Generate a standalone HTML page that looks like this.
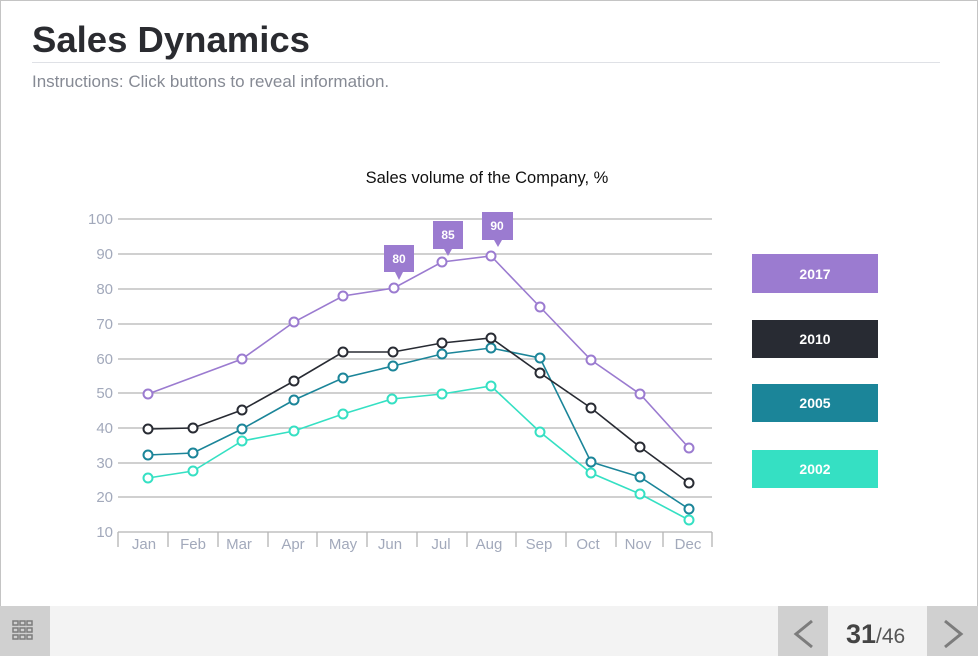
<!DOCTYPE html>
<html><head><meta charset="utf-8"><style>
html,body{margin:0;padding:0;background:#fff;}
body{width:978px;height:656px;position:relative;overflow:hidden;font-family:"Liberation Sans",Arial,sans-serif;}
.frame{position:absolute;left:0;top:0;width:976px;height:606px;border:1px solid #c4c4c4;border-bottom:none;}
h1{position:absolute;left:32px;top:20px;margin:0;font-size:36.5px;font-weight:bold;color:#2a2b30;line-height:40px;}
.rule{position:absolute;left:32px;top:62px;width:908px;height:1px;background:#dfe1e6;}
.instr{position:absolute;left:32px;top:72px;font-size:17px;color:#868a94;}
.bar{position:absolute;left:0;top:606px;width:978px;height:50px;background:#f3f3f3;}
.gb{position:absolute;top:606px;height:50px;background:#d0d0d0;}
</style></head><body>
<div class="frame"></div>
<h1>Sales Dynamics</h1>
<div class="rule"></div>
<div class="instr">Instructions: Click buttons to reveal information.</div>
<svg width="978" height="606" style="position:absolute;left:0;top:0" font-family="Liberation Sans, Arial, sans-serif">
<text x="487" y="183" font-size="16.5" text-anchor="middle" fill="#111">Sales volume of the Company, %</text>
<g stroke="#b4b4b4" stroke-width="1.3">
<line x1="118" x2="712" y1="219" y2="219"/><line x1="118" x2="712" y1="254" y2="254"/><line x1="118" x2="712" y1="289" y2="289"/><line x1="118" x2="712" y1="324" y2="324"/><line x1="118" x2="712" y1="359" y2="359"/><line x1="118" x2="712" y1="393" y2="393"/><line x1="118" x2="712" y1="428" y2="428"/><line x1="118" x2="712" y1="463" y2="463"/><line x1="118" x2="712" y1="497" y2="497"/><line x1="118" x2="712" y1="532" y2="532"/>
<path d="M118 532v15M168 532v15M218 532v15M268 532v15M317 532v15M367 532v15M417 532v15M467 532v15M516 532v15M566 532v15M616 532v15M663 532v15M712 532v15"/>
</g>
<g font-size="15" fill="#a2a9bb" text-anchor="end">
<text x="113" y="224">100</text><text x="113" y="259">90</text><text x="113" y="294">80</text><text x="113" y="329">70</text><text x="113" y="364">60</text><text x="113" y="398">50</text><text x="113" y="433">40</text><text x="113" y="468">30</text><text x="113" y="502">20</text><text x="113" y="537">10</text>
</g>
<g font-size="15" fill="#a2a9bb" text-anchor="middle">
<text x="144" y="549">Jan</text><text x="193" y="549">Feb</text><text x="239" y="549">Mar</text><text x="293" y="549">Apr</text><text x="343" y="549">May</text><text x="390" y="549">Jun</text><text x="441" y="549">Jul</text><text x="489" y="549">Aug</text><text x="539" y="549">Sep</text><text x="588" y="549">Oct</text><text x="638" y="549">Nov</text><text x="688" y="549">Dec</text>
</g>
<g fill="#fff" stroke-width="1.6">
<polyline fill="none" stroke="#35e0c3" points="148,478 193,471 242,441 294,431 343,414 392,399 442,394 491,386 540,432 591,473 640,494 689,520"/>
<polyline fill="none" stroke="#1b8599" points="148,455 193,453 242,429 294,400 343,378 393,366 442,354 491,348 540,358 591,462 640,477 689,509"/>
<polyline fill="none" stroke="#282b33" points="148,429 193,428 242,410 294,381 343,352 393,352 442,343 491,338 540,373 591,408 640,447 689,483"/>
<polyline fill="none" stroke="#9b7bd0" points="148,394 242,359 294,322 343,296 394,288 442,262 491,256 540,307 591,360 640,394 689,448"/>
<g stroke="#35e0c3" stroke-width="2"><circle cx="148" cy="478" r="4.5"/><circle cx="193" cy="471" r="4.5"/><circle cx="242" cy="441" r="4.5"/><circle cx="294" cy="431" r="4.5"/><circle cx="343" cy="414" r="4.5"/><circle cx="392" cy="399" r="4.5"/><circle cx="442" cy="394" r="4.5"/><circle cx="491" cy="386" r="4.5"/><circle cx="540" cy="432" r="4.5"/><circle cx="591" cy="473" r="4.5"/><circle cx="640" cy="494" r="4.5"/><circle cx="689" cy="520" r="4.5"/></g>
<g stroke="#1b8599" stroke-width="2"><circle cx="148" cy="455" r="4.5"/><circle cx="193" cy="453" r="4.5"/><circle cx="242" cy="429" r="4.5"/><circle cx="294" cy="400" r="4.5"/><circle cx="343" cy="378" r="4.5"/><circle cx="393" cy="366" r="4.5"/><circle cx="442" cy="354" r="4.5"/><circle cx="491" cy="348" r="4.5"/><circle cx="540" cy="358" r="4.5"/><circle cx="591" cy="462" r="4.5"/><circle cx="640" cy="477" r="4.5"/><circle cx="689" cy="509" r="4.5"/></g>
<g stroke="#282b33" stroke-width="2"><circle cx="148" cy="429" r="4.5"/><circle cx="193" cy="428" r="4.5"/><circle cx="242" cy="410" r="4.5"/><circle cx="294" cy="381" r="4.5"/><circle cx="343" cy="352" r="4.5"/><circle cx="393" cy="352" r="4.5"/><circle cx="442" cy="343" r="4.5"/><circle cx="491" cy="338" r="4.5"/><circle cx="540" cy="373" r="4.5"/><circle cx="591" cy="408" r="4.5"/><circle cx="640" cy="447" r="4.5"/><circle cx="689" cy="483" r="4.5"/></g>
<g stroke="#9b7bd0" stroke-width="2"><circle cx="148" cy="394" r="4.5"/><circle cx="242" cy="359" r="4.5"/><circle cx="294" cy="322" r="4.5"/><circle cx="343" cy="296" r="4.5"/><circle cx="394" cy="288" r="4.5"/><circle cx="442" cy="262" r="4.5"/><circle cx="491" cy="256" r="4.5"/><circle cx="540" cy="307" r="4.5"/><circle cx="591" cy="360" r="4.5"/><circle cx="640" cy="394" r="4.5"/><circle cx="689" cy="448" r="4.5"/></g>
</g>
<g fill="#9b7bd0">
<path d="M384 245h30v27h-11l-4 8-4-8h-11z"/>
<path d="M433 221h30v28h-11l-4 7-4-7h-11z"/>
<path d="M482 212h31v28h-11l-4 7-4-7h-12z"/>
</g>
<g fill="#fff" font-size="12" font-weight="bold" text-anchor="middle">
<text x="399" y="263">80</text><text x="448" y="239">85</text><text x="497" y="230">90</text>
</g>
<rect x="752" y="254" width="126" height="39" fill="#9b7bd0"/>
<rect x="752" y="320" width="126" height="38" fill="#282b33"/>
<rect x="752" y="384" width="126" height="38" fill="#1b8599"/>
<rect x="752" y="450" width="126" height="38" fill="#35e0c3"/>
<g fill="#fff" font-size="14" font-weight="bold" text-anchor="middle">
<text x="815" y="279">2017</text><text x="815" y="344">2010</text><text x="815" y="408">2005</text><text x="815" y="474">2002</text>
</g>
</svg>
<div class="bar"></div>
<div class="gb" style="left:0;width:50px"></div>
<div class="gb" style="left:778px;width:50px"></div>
<div class="gb" style="left:927px;width:51px"></div>
<svg width="978" height="50" style="position:absolute;left:0;top:606px">
<g fill="none" stroke="#7c7c7c" stroke-width="1.5">
<rect x="13" y="15" width="5" height="4"/><rect x="20" y="15" width="5" height="4"/><rect x="27" y="15" width="5" height="4"/>
<rect x="13" y="22" width="5" height="4"/><rect x="20" y="22" width="5" height="4"/><rect x="27" y="22" width="5" height="4"/>
<rect x="13" y="29" width="5" height="4"/><rect x="20" y="29" width="5" height="4"/><rect x="27" y="29" width="5" height="4"/>
</g>
<g fill="none" stroke="#7c7c7c" stroke-width="3">
<polyline points="812,15 796,28 812,41"/>
<polyline points="945,15 961,28 945,41"/>
</g>
<text x="846" y="37" font-size="27" font-weight="bold" fill="#444" font-family="Liberation Sans, Arial, sans-serif">31<tspan font-weight="normal" font-size="21" fill="#555">/46</tspan></text>
</svg>
</body></html>
